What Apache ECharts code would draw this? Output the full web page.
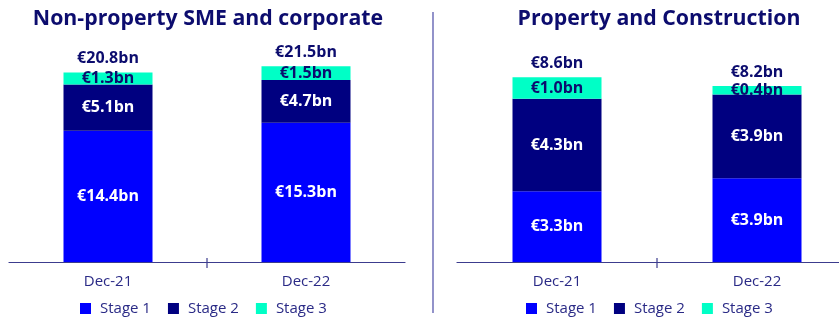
<!DOCTYPE html>
<html>
<head>
<meta charset="utf-8">
<script src="https://cdn.jsdelivr.net/npm/echarts@6/dist/echarts.min.js"></script>
<style>
  html, body { margin: 0; padding: 0; background: #fff; overflow: hidden; }
  #chart { width: 860px; height: 334px; }
</style>
</head>
<body>
<div id="chart"></div>
<script>
// Loan book by IFRS 9 stage (€bn)
const categories = ['Dec-21', 'Dec-22'];
const stageNames = ['Stage 1', 'Stage 2', 'Stage 3'];

// Non-property SME and corporate
const smeStage1 = [14.4, 15.3];
const smeStage2 = [5.1, 4.7];
const smeStage3 = [1.3, 1.5];
const smeTotal = [20.8, 21.5];

// Property and Construction
const propStage1 = [3.3, 3.9];
const propStage2 = [4.3, 3.9];
const propStage3 = [1.0, 0.4];
const propTotal = [8.6, 8.2];

const titles = ['Non-property SME and corporate', 'Property and Construction'];

const FONT = '"Open Sans", "Noto Sans", sans-serif';
const NAVY_TEXT = '#0c0c6e';
const AXIS_COL = '#3c3c8e';
const colors = ['#0000ff', '#000080', '#00ffc6'];

const fmt = v => '€' + v.toFixed(1) + 'bn';

function stackSeries(idx, values, stageIdx) {
  const labelColor = stageIdx === 2 ? NAVY_TEXT : '#ffffff';
  return {
    name: stageNames[stageIdx],
    type: 'bar',
    stack: 'p' + idx,
    xAxisIndex: idx,
    yAxisIndex: idx,
    barWidth: 89,
    data: values,
    z: 3,
    itemStyle: { color: colors[stageIdx] },
    label: {
      show: true,
      position: 'inside',
      color: labelColor,
      fontFamily: FONT,
      fontWeight: 'bold',
      fontSize: 16,
      formatter: p => fmt(p.value)
    },
    emphasis: { disabled: true }
  };
}

// Transparent bar of the full stack height, used only for the total label
function totalSeries(idx, values) {
  return {
    name: 'Total',
    type: 'bar',
    xAxisIndex: idx,
    yAxisIndex: idx,
    barWidth: 89,
    barGap: '-100%',
    data: values,
    z: 1,
    itemStyle: { color: 'rgba(255,255,255,0)' },
    label: {
      show: true,
      position: 'top',
      distance: 6,
      color: NAVY_TEXT,
      fontFamily: FONT,
      fontWeight: 'bold',
      fontSize: 16,
      formatter: p => fmt(p.value)
    },
    emphasis: { disabled: true },
    silent: true
  };
}

// the right-hand panel runs on past the visible edge
const grids = [
  { left: 9, top: 43, width: 396, height: 219 },
  { left: 457, top: 43, width: 400, height: 219 }
];
const gridCenters = [9 + 396 / 2, 457 + 400 / 2];
const titleCenters = [203, 654];
const legendLeft = [75, 521];
const yMax = [24.05, 10.2];

const option = {
  animation: false,
  backgroundColor: '#ffffff',
  title: titles.map((t, i) => ({
    text: t,
    left: titleCenters[i],
    textAlign: 'center',
    top: 3,
    textStyle: { color: NAVY_TEXT, fontFamily: FONT, fontWeight: 'bold', fontSize: 21.3 }
  })),
  legend: [0, 1].map(i => ({
    data: stageNames,
    left: legendLeft[i],
    top: 296,
    orient: 'horizontal',
    icon: 'rect',
    itemWidth: 11,
    itemHeight: 11,
    itemGap: 17,
    textStyle: { color: '#2a2a86', fontFamily: FONT, fontSize: 15, padding: [0, 0, 0, 4] },
    selectedMode: false
  })),
  grid: grids,
  xAxis: [0, 1].map(i => ({
    type: 'category',
    gridIndex: i,
    data: categories,
    axisLine: { lineStyle: { color: AXIS_COL, width: 1.2 } },
    axisTick: { show: false },
    axisLabel: { color: '#2a2a86', fontFamily: FONT, fontSize: 15, margin: 12 }
  })),
  yAxis: [0, 1].map(i => ({
    type: 'value',
    gridIndex: i,
    min: 0,
    max: yMax[i],
    show: false,
    splitLine: { show: false }
  })),
  graphic: [
    // divider between the two panels
    {
      type: 'line',
      shape: { x1: 433, y1: 12, x2: 433, y2: 313 },
      style: { stroke: '#4a4aa6', lineWidth: 1.2 }
    },
    // centre ticks crossing each category axis
    ...gridCenters.map(cx => ({
      type: 'line',
      shape: { x1: cx, y1: 258, x2: cx, y2: 268 },
      style: { stroke: AXIS_COL, lineWidth: 1.2 }
    }))
  ],
  series: [
    stackSeries(0, smeStage1, 0),
    stackSeries(0, smeStage2, 1),
    stackSeries(0, smeStage3, 2),
    totalSeries(0, smeTotal),
    stackSeries(1, propStage1, 0),
    stackSeries(1, propStage2, 1),
    stackSeries(1, propStage3, 2),
    totalSeries(1, propTotal)
  ]
};

const chart = echarts.init(document.getElementById('chart'), null, { renderer: 'canvas' });
chart.setOption(option);
</script>
</body>
</html>
